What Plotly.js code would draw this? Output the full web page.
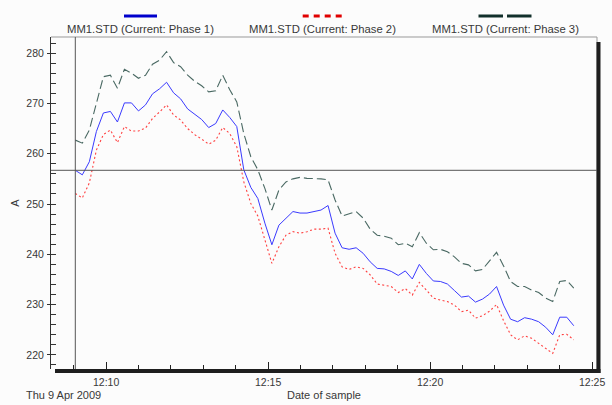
<!DOCTYPE html>
<html>
<head>
<meta charset="utf-8">
<script src="https://cdn.plot.ly/plotly-3.0.1.min.js"></script>
<style>
  html, body { margin: 0; padding: 0; background: #fcfcfc; }
  #chart { width: 612px; height: 405px; }
</style>
</head>
<body>
<div id="chart"></div>
<script>
// ---- data ----
const sampleDate = "2009-04-09";
const sampleTimes = [
  "12:09:03","12:09:16","12:09:29","12:09:42","12:09:55","12:10:08","12:10:21","12:10:34","12:10:47","12:11:00",
  "12:11:13","12:11:26","12:11:39","12:11:52","12:12:05","12:12:18","12:12:31","12:12:44","12:12:57","12:13:10",
  "12:13:23","12:13:36","12:13:49","12:14:02","12:14:15","12:14:28","12:14:41","12:14:54","12:15:07","12:15:20",
  "12:15:33","12:15:46","12:15:59","12:16:12","12:16:25","12:16:38","12:16:51","12:17:04","12:17:17","12:17:30",
  "12:17:43","12:17:56","12:18:09","12:18:22","12:18:35","12:18:48","12:19:01","12:19:14","12:19:27","12:19:40",
  "12:19:53","12:20:06","12:20:19","12:20:32","12:20:45","12:20:58","12:21:11","12:21:24","12:21:37","12:21:50",
  "12:22:03","12:22:16","12:22:29","12:22:42","12:22:55","12:23:08","12:23:21","12:23:34","12:23:47","12:24:00",
  "12:24:13","12:24:26"
];
const phase1 = [
  256.7,255.8,258.4,264.4,268.1,268.4,266.3,270.1,270.1,268.5,
  269.7,271.9,272.9,274.2,272.1,270.9,268.9,267.9,266.8,265.2,
  266.0,268.7,267.2,265.4,256.8,253.3,251.1,246.2,241.9,245.8,
  247.2,248.5,248.2,248.2,248.5,248.8,249.7,244.2,241.3,241.0,
  241.3,240.2,238.5,237.2,237.1,236.6,235.8,236.7,235.1,238.0,
  236.2,234.7,234.6,234.1,232.8,231.5,231.7,230.5,231.1,232.1,
  233.6,229.9,227.1,226.6,227.4,227.1,226.6,225.5,224.0,227.5,
  227.5,225.8
];
const phase2 = [
  252.1,251.2,254.2,260.7,263.8,264.7,262.2,265.4,264.5,264.5,
  265.1,267.0,268.3,269.7,267.7,266.7,265.0,263.8,262.9,261.9,
  262.7,265.2,264.0,261.4,254.4,250.1,247.6,242.8,238.2,241.5,
  243.8,244.5,244.2,244.5,245.0,245.0,245.2,240.2,237.5,237.0,
  237.5,237.2,235.9,234.1,233.9,233.6,232.4,233.2,231.9,234.4,
  232.9,231.3,230.9,230.6,229.9,228.6,228.9,227.3,227.8,228.7,
  230.0,226.8,224.0,223.0,223.8,223.3,222.3,221.3,220.3,224.0,
  224.1,223.0
];
const phase3 = [
  262.7,262.1,264.7,270.3,275.3,275.6,273.0,276.8,276.0,275.0,
  275.6,277.8,278.6,280.3,278.1,277.3,275.6,274.4,273.5,272.3,
  272.5,275.6,272.7,270.3,264.0,259.4,256.8,253.1,248.8,252.8,
  254.4,255.0,255.3,255.1,255.1,255.0,254.8,250.8,247.6,248.0,
  248.5,247.2,245.0,243.8,243.6,243.2,241.9,242.2,241.5,244.3,
  242.2,240.9,241.0,240.5,239.5,238.2,237.9,236.7,237.0,238.7,
  240.4,237.7,234.6,233.6,233.6,232.9,232.4,231.3,230.6,234.6,
  234.8,233.3
];
const seriesNames = ["MM1.STD (Current: Phase 1)", "MM1.STD (Current: Phase 2)", "MM1.STD (Current: Phase 3)"];
const dateLabel = "Thu 9 Apr 2009";
const xTitle = "Date of sample";
const yTitle = "A";

// ---- build ----
const x = sampleTimes.map(t => sampleDate + " " + t);

const colLine = ["#3a3aff", "#ff4040", "#4a6963"];
const colSwatch = ["#0000cc", "#e00000", "#12302b"];
const txt = "#383838";
const FONT = "Liberation Sans, Arial, sans-serif";

// plot area in pixels
const L = 51, R = 597, T = 37, B = 369;
const px = v => (v - L) / (R - L);
const py = v => (B - v) / (B - T);

const traces = [
  {x: x, y: phase1, type: "scatter", mode: "lines", name: seriesNames[0],
   line: {color: colLine[0], width: 1}, showlegend: false},
  {x: x, y: phase2, type: "scatter", mode: "lines", name: seriesNames[1],
   line: {color: colLine[1], width: 1.1, dash: "2px,2.5px"}, showlegend: false},
  {x: x, y: phase3, type: "scatter", mode: "lines", name: seriesNames[2],
   line: {color: colLine[2], width: 1.1, dash: "9px,4px"}, showlegend: false}
];

const shapes = [
  // frame
  {type: "line", xref: "paper", yref: "paper", x0: 0, x1: 1, y0: 1, y1: 1, line: {color: "#999", width: 1}},
  {type: "line", xref: "paper", yref: "paper", x0: 1, x1: 1, y0: 0, y1: 1, line: {color: "#999", width: 1}},
  {type: "rect", xref: "paper", yref: "paper", x0: px(596.5), x1: px(600.5), y0: py(373), y1: py(42),
   fillcolor: "#1e1e1e", line: {width: 0}},
  {type: "rect", xref: "paper", yref: "paper", x0: px(55), x1: px(600.5), y0: py(373), y1: py(369),
   fillcolor: "#1e1e1e", line: {width: 0}},
  // cursor cross-hair on first sample of phase 1
  {type: "line", xref: "x", yref: "paper", x0: x[0], x1: x[0], y0: 0, y1: 1, line: {color: "#555", width: 1}},
  {type: "line", xref: "paper", yref: "y", x0: 0, x1: 1, y0: phase1[0], y1: phase1[0], line: {color: "#555", width: 1}},
  // legend swatches
  {type: "line", xref: "paper", yref: "paper", x0: px(124), x1: px(157), y0: py(16), y1: py(16),
   line: {color: colSwatch[0], width: 3}},
  {type: "line", xref: "paper", yref: "paper", x0: px(302.7), x1: px(344), y0: py(16), y1: py(16),
   line: {color: colSwatch[1], width: 3, dash: "6px,5px"}},
  {type: "line", xref: "paper", yref: "paper", x0: px(478.5), x1: px(532.5), y0: py(16), y1: py(16),
   line: {color: colSwatch[2], width: 3, dash: "24.5px,4px"}}
];

const annotations = [
  {text: seriesNames[0], xref: "paper", yref: "paper", x: px(140.5), y: py(29), showarrow: false,
   xanchor: "center", yanchor: "middle", font: {family: FONT, size: 11.3, color: txt}},
  {text: seriesNames[1], xref: "paper", yref: "paper", x: px(322), y: py(29), showarrow: false,
   xanchor: "center", yanchor: "middle", font: {family: FONT, size: 11.3, color: txt}},
  {text: seriesNames[2], xref: "paper", yref: "paper", x: px(505), y: py(29), showarrow: false,
   xanchor: "center", yanchor: "middle", font: {family: FONT, size: 11.3, color: txt}},
  {text: dateLabel, xref: "paper", yref: "paper", x: px(24), y: py(394.5), showarrow: false,
   xanchor: "left", yanchor: "middle", font: {family: FONT, size: 11, color: txt}}
];

const layout = {
  width: 612, height: 405,
  margin: {l: L, r: 612 - R, t: T, b: 405 - B, pad: 0},
  paper_bgcolor: "#fcfcfc",
  plot_bgcolor: "#fcfcfc",
  font: {family: FONT, color: txt},
  showlegend: false,
  xaxis: {
    type: "date",
    range: [sampleDate + " 12:08:18", sampleDate + " 12:25:09"],
    tick0: sampleDate + " 12:10:00", dtick: 300000, tickformat: "%H:%M",
    ticks: "inside", ticklen: 7, tickcolor: "#222", tickwidth: 1,
    minor: {dtick: 60000, tick0: sampleDate + " 12:10:00", ticks: "inside", ticklen: 4, tickcolor: "#222", showgrid: false},
    showline: false, showgrid: false, zeroline: false,
    tickfont: {family: FONT, size: 10.5, color: txt},
    ticklabelstandoff: 5,
    title: {text: xTitle, standoff: 4, font: {family: FONT, size: 11, color: txt}},
    automargin: false
  },
  yaxis: {
    range: [217.2, 283.2],
    tick0: 0, dtick: 10,
    ticks: "outside", ticklen: 3, tickcolor: "#333", tickwidth: 1,
    minor: {dtick: 2, tick0: 0, ticks: "inside", ticklen: 5, tickcolor: "#333", showgrid: false},
    showline: true, linecolor: "#333", linewidth: 1,
    showgrid: false, zeroline: false,
    tickfont: {family: FONT, size: 10.5, color: txt},
    ticklabelstandoff: 1,
    title: {text: yTitle, standoff: 4, font: {family: FONT, size: 11, color: txt}},
    automargin: false
  },
  yaxis2: {
    overlaying: "y", side: "left", range: [217.2, 283.2],
    tick0: 0, dtick: 10, ticks: "inside", ticklen: 5, tickcolor: "#333",
    showticklabels: false, showline: false, showgrid: false, zeroline: false
  },
  shapes: shapes,
  annotations: annotations
};

Plotly.newPlot("chart", traces, layout, {staticPlot: true, displayModeBar: false});
</script>
</body>
</html>
